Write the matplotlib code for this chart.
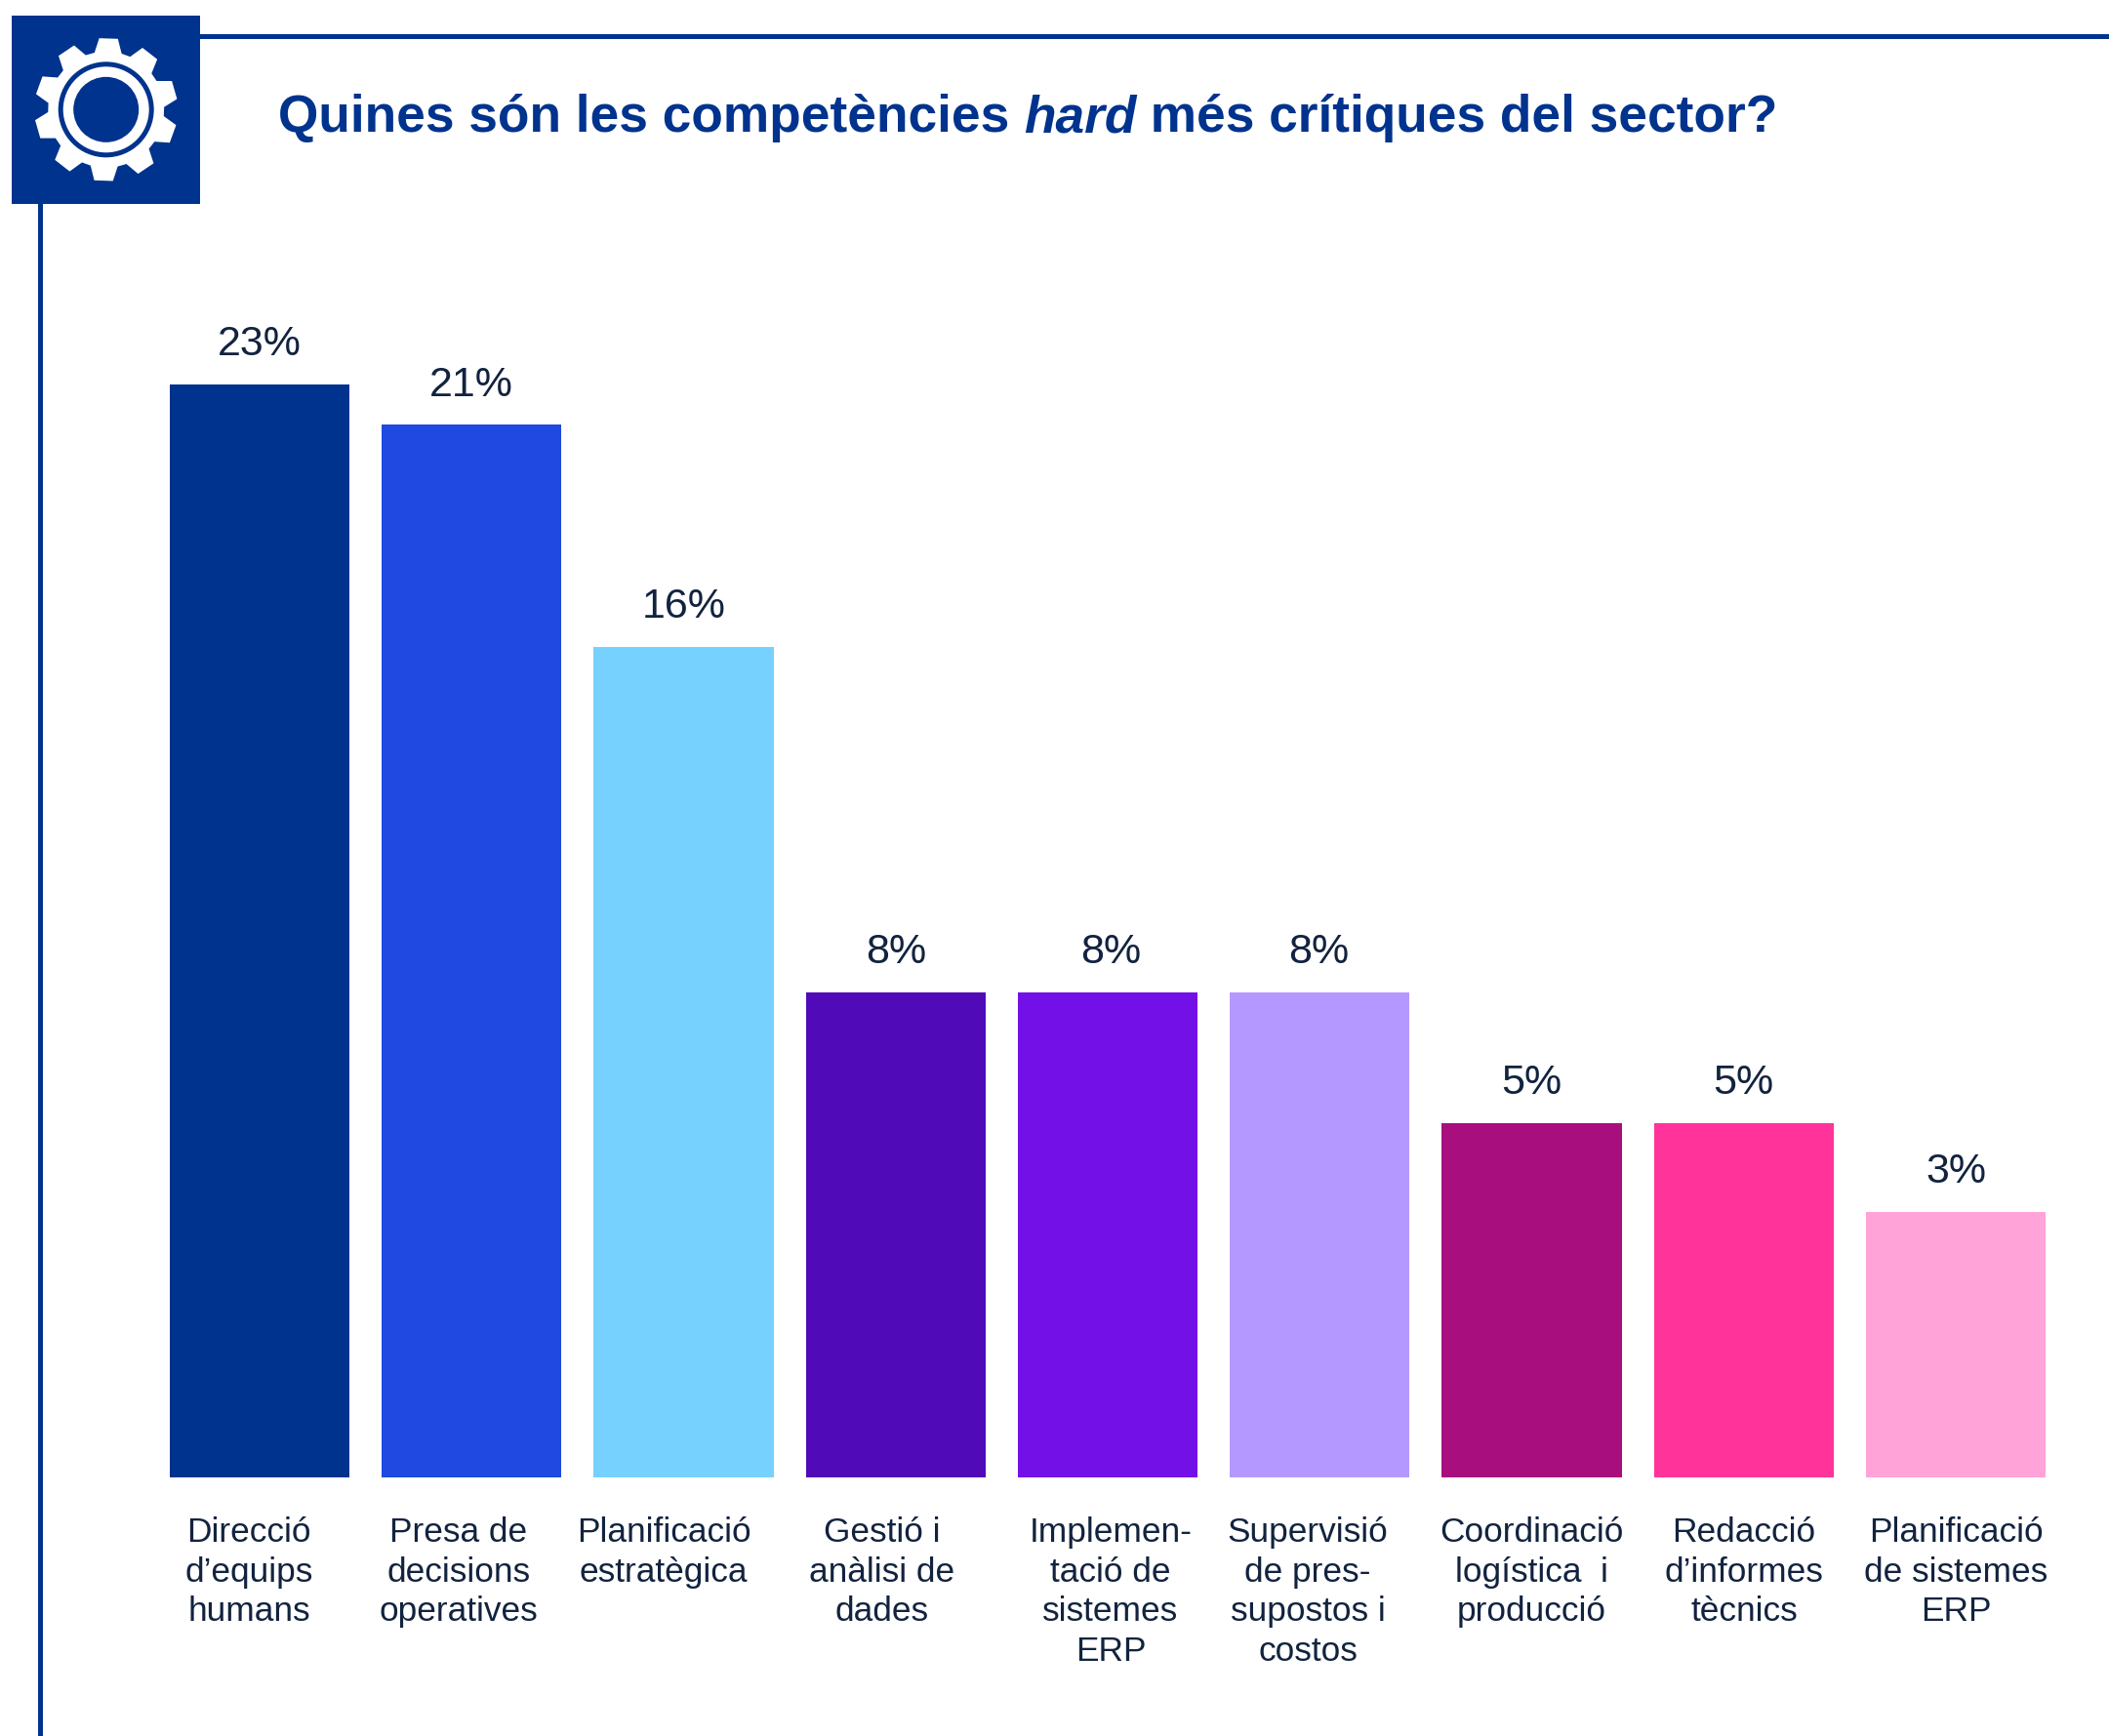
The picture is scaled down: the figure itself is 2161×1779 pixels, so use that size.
import numpy as np
import matplotlib
matplotlib.use('Agg')
import matplotlib.pyplot as plt
from matplotlib.patches import Polygon, Circle, Rectangle

categories = ['Direcció\nd’equips\nhumans', 'Presa de\ndecisions\noperatives',
              'Planificació\nestratègica', 'Gestió i\nanàlisi de\ndades',
              'Implemen-\ntació de\nsistemes\nERP', 'Supervisió\nde pres-\nsupostos i\ncostos',
              'Coordinació\nlogística  i\nproducció', 'Redacció\nd’informes\ntècnics',
              'Planificació\nde sistemes\nERP']
# bars in the original are not in proportion to the printed labels
bar_heights = [23, 22.15, 17.47, 10.2, 10.2, 10.2, 7.45, 7.45, 5.58]
value_labels = ['23%', '21%', '16%', '8%', '8%', '8%', '5%', '5%', '3%']
bar_colors = ['#00338D', '#1F49E0', '#76D1FF', '#500AB8', '#7310E8',
              '#B598FF', '#A90E7F', '#FF3399', '#FFA3D9']

# centres of the label blocks, pixels in the full image
label_x = [255, 470, 680, 904, 1138, 1340, 1569, 1787, 2004]
# the value labels are not all exactly over their bars
value_shift = [0, 0, 0, 0, 2, -1, 0, 0, 0]

W = 2161
H = 1779
NAVY = '#00338D'
TEXT = '#12233F'
FONT = 'Liberation Sans'

fig = plt.figure(figsize=(W / 100, H / 100), dpi=100, facecolor='white')

def fx(x):
  return x / W

def fy(y):
  return 1 - y / H

# bars
ax = fig.add_axes([fx(174), fy(1514), fx(2096 - 174), (1514 - 394) / H])
bar_w = 0.847
xs = np.arange(len(bar_heights))
ax.bar(xs, bar_heights, width=bar_w, color=bar_colors)
ax.set_xlim(-bar_w / 2, xs[-1] + bar_w / 2)
ax.set_ylim(0, 23)
ax.axis('off')

for i in range(len(xs)):
  ax.annotate(value_labels[i], (xs[i], bar_heights[i]), xytext=(value_shift[i], 21.5),
              textcoords='offset points', ha='center', va='baseline',
              fontsize=31, color=TEXT, family=FONT, annotation_clip=False)

for i in range(len(categories)):
  fig.text(fx(label_x[i]), fy(1554), categories[i], ha='center', va='top',
           fontsize=25.4, color=TEXT, family=FONT, linespacing=1.29)

# frame lines and icon box, in pixels on a full-figure overlay
over = fig.add_axes([0, 0, 1, 1], facecolor='none')
over.set_xlim(0, W)
over.set_ylim(H, 0)
over.axis('off')
over.add_patch(Rectangle((205, 34.5), W - 205, 5, color=NAVY, lw=0))
over.add_patch(Rectangle((39, 209), 5, H - 209, color=NAVY, lw=0))
over.add_patch(Rectangle((12, 16), 193, 193, color=NAVY, lw=0))

# gear icon
cx = 108.7
cy = 112.3
pts = []
n_teeth = 10
for k in range(n_teeth):
  a = np.deg2rad(2 + k * 360 / n_teeth)
  for off, r in [(-13.5, 59.5), (-7.5, 73.5), (7.5, 73.5), (13.5, 59.5)]:
    t = a + np.deg2rad(off)
    pts.append((cx + r * np.sin(t), cy - r * np.cos(t)))
over.add_patch(Polygon(pts, closed=True, color='white', lw=0))
over.add_patch(Circle((cx, cy), 49, color=NAVY, lw=0))
over.add_patch(Circle((cx, cy), 44, color='white', lw=0))
over.add_patch(Circle((cx, cy), 33.5, color=NAVY, lw=0))

# title, three runs because of the italic word
title_parts = [('Quines són les competències ', 'normal'), ('hard', 'italic'),
               (' més crítiques del sector?', 'normal')]
renderer = fig.canvas.get_renderer()
x = 285
for part, style in title_parts:
  t = over.text(x, 135, part, ha='left', va='baseline', fontsize=38.35,
                fontweight='bold', fontstyle=style, color=NAVY, family=FONT)
  x = t.get_window_extent(renderer).x1

fig.savefig('out.png', dpi=100)
